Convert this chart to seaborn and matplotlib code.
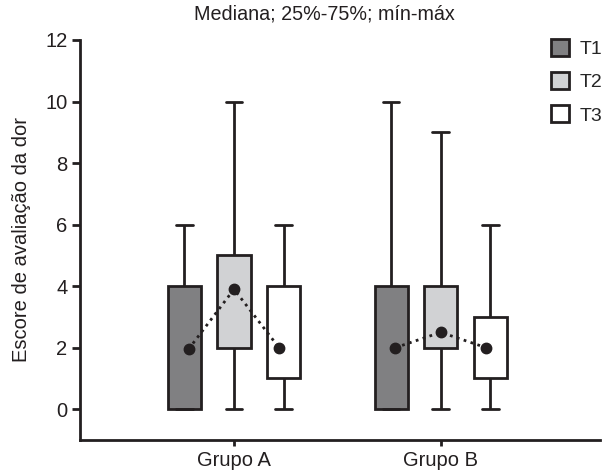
import numpy as np
import pandas as pd
import matplotlib
matplotlib.use("Agg")
import matplotlib.pyplot as plt
from matplotlib.patches import Patch
import seaborn as sns

# ---- data ----
groups = ["Grupo A", "Grupo B"]
times = ["T1", "T2", "T3"]
mins_A = [0, 0, 0]
q1_A = [0, 2, 1]
med_A = [1.95, 3.9, 1.98]
q3_A = [4, 5, 4]
maxs_A = [6, 10, 6]
mins_B = [0, 0, 0]
q1_B = [0, 2, 1]
med_B = [2, 2.5, 2]
q3_B = [4, 4, 3]
maxs_B = [10, 9, 6]

title = "Mediana; 25%-75%; mín-máx"
ylabel = "Escore de avaliação da dor"
colors = ["#808082", "#d1d2d4", "#ffffff"]
ink = "#231f20"

sns.set_style("white")
plt.rcParams["font.family"] = ["Liberation Sans", "DejaVu Sans"]

# build long-form rows: five-number data reproduces exact box statistics
rows = []
stats = {"Grupo A": (mins_A, q1_A, med_A, q3_A, maxs_A),
         "Grupo B": (mins_B, q1_B, med_B, q3_B, maxs_B)}
for g in groups:
    mn, a, m, b, mx = stats[g]
    for i, t in enumerate(times):
        for v in (mn[i], a[i], m[i], b[i], mx[i]):
            rows.append({"grupo": g, "tempo": t, "valor": v})
df = pd.DataFrame(rows)

fig = plt.figure(figsize=(6.06, 4.74), dpi=100)
ax = fig.add_axes([0.132, 0.0717, 0.858, 0.844])

width = 0.72
sns.boxplot(data=df, x="grupo", y="valor", hue="tempo", order=groups,
            hue_order=times, palette=colors, saturation=1, width=width,
            gap=1/3, whis=(0, 100), showfliers=False, linecolor=ink,
            linewidth=2.0, medianprops={"visible": False}, legend=False, ax=ax)

# medians as dots connected by dotted line within each group
slot = width / len(times)
inward = [0.02, 0.0, -0.02]
for gi, g in enumerate(groups):
    med = stats[g][2]
    xs = [gi + (i - 1) * slot + inward[i] for i in range(len(times))]
    ax.plot(xs, med, linestyle=(0, (1, 1.6)), color=ink, linewidth=2.0,
            marker="o", markersize=7.5, markerfacecolor=ink,
            markeredgecolor=ink, zorder=5)

ax.set_xlim(-0.745, 1.77)
ax.set_ylim(-1, 12)
ax.set_yticks([0, 2, 4, 6, 8, 10, 12])
ax.set_xlabel("")
ax.set_ylabel(ylabel, fontsize=14.5, color=ink, labelpad=10)
ax.set_title(title, fontsize=14.2, color=ink, pad=15, x=0.47)
for s in ["top", "right"]:
    ax.spines[s].set_visible(False)
for s in ["left", "bottom"]:
    ax.spines[s].set_color(ink)
    ax.spines[s].set_linewidth(2.0)
ax.tick_params(axis="y", direction="out", length=6, width=2, colors=ink,
               labelsize=14.5, left=True, pad=3)
ax.tick_params(axis="x", direction="out", length=4, width=2, colors=ink,
               labelsize=14.5, bottom=True, pad=4)

handles = [Patch(facecolor=c, edgecolor=ink, linewidth=2.0) for c in colors]
fig.legend(handles, times, loc="upper left", bbox_to_anchor=(0.909, 0.917),
           frameon=False, handlelength=0.95, handleheight=0.95,
           labelspacing=0.72, handletextpad=0.55, fontsize=14,
           borderaxespad=0, borderpad=0)

fig.savefig("out.png", dpi=100, facecolor="white")
